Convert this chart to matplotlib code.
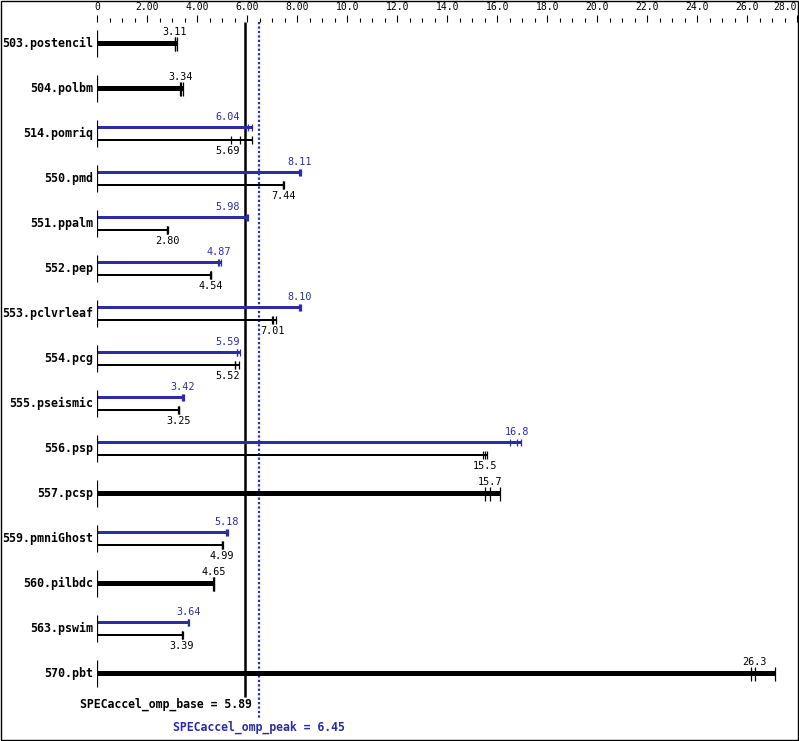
import numpy as np
import matplotlib
matplotlib.use('Agg')
import matplotlib.pyplot as plt
from matplotlib.patches import Rectangle
from matplotlib.ticker import MultipleLocator

# benchmark names and the individual run ratios (median is the printed value)
benchmarks = ['503.postencil', '504.polbm', '514.pomriq', '550.pmd', '551.ppalm',
              '552.pep', '553.pclvrleaf', '554.pcg', '555.pseismic', '556.psp',
              '557.pcsp', '559.pmniGhost', '560.pilbdc', '563.pswim', '570.pbt']
base_runs = [[3.09, 3.11, 3.18], [3.32, 3.34, 3.42], [5.36, 5.69, 6.19],
             [7.42, 7.44, 7.46], [2.79, 2.80, 2.81], [4.52, 4.54, 4.56],
             [7.00, 7.01, 7.13], [5.52, 5.52, 5.68], [3.23, 3.25, 3.27],
             [15.43, 15.5, 15.6], [15.5, 15.7, 16.1], [4.97, 4.99, 5.01],
             [4.63, 4.65, 4.68], [3.37, 3.39, 3.41], [26.15, 26.3, 27.1]]
peak_runs = [None, None, [5.96, 6.04, 6.20],
             [8.08, 8.11, 8.13], [5.95, 5.98, 6.02], [4.83, 4.87, 4.96],
             [8.08, 8.10, 8.13], [5.57, 5.59, 5.69], [3.40, 3.42, 3.45],
             [16.5, 16.8, 16.95], None, [5.15, 5.18, 5.22],
             None, [3.62, 3.64, 3.68], None]
base_score = 5.89
peak_score = 6.45
tick_values = np.arange(0, 29, 2)
tick_labels = ['0', '2.00', '4.00', '6.00', '8.00', '10.0', '12.0', '14.0',
               '16.0', '18.0', '20.0', '22.0', '24.0', '26.0', '28.0']

BLUE = '#2c2ca8'
MONO = 'DejaVu Sans Mono'

W, H = 799, 741
fig = plt.figure(figsize=(W / 100, H / 100), dpi=100)
fig.patch.set_facecolor('white')

x0_px, x1_px, top_px = 97.3, 797.3, 22
ax = fig.add_axes([x0_px / W, 0, (x1_px - x0_px) / W, (H - top_px) / H])
ax.set_xlim(0, 28)
# one row per 45 px, row 0 centred at 43.7 px from the top
ax.set_ylim((H - 43.7) / 45, (top_px - 43.7) / 45)
for s in ax.spines.values():
    s.set_visible(False)
ax.yaxis.set_visible(False)
ax.xaxis.set_ticks_position('top')
ax.set_xticks(tick_values)
ax.set_xticklabels(tick_labels, family=MONO, fontsize=7.0)
ax.xaxis.set_minor_locator(MultipleLocator(0.5))
ax.tick_params(axis='x', which='major', length=5, width=0.8, pad=2.5, direction='out')
ax.tick_params(axis='x', which='minor', length=2.9, width=0.8, direction='out')
ax.get_xticklabels()[-1].set_ha('right')


def fmt(v):
    return f'{v:.2f}' if v < 10 else f'{v:.1f}'


def label_x(m):
    # keep value labels off the base reference line
    if abs(m - base_score) < 0.55:
        return base_score - 0.18, 'right'
    return m, 'center'


# reference lines
ax.vlines(base_score, (top_px - 43.7) / 45, 14.52, color='black', lw=1.8, zorder=1)
ax.vlines(peak_score, (top_px - 43.7) / 45, 14.98, color=BLUE, lw=1.6,
          linestyles=(0, (1, 1)), zorder=1)

VAL_FS = 7.3
for i, name in enumerate(benchmarks):
    ax.vlines(0, i - 0.3, i + 0.3, color='black', lw=0.9, zorder=3)
    ax.annotate(name, (0, i), xytext=(-3, 0), textcoords='offset points',
                ha='right', va='center', family=MONO, fontweight='bold',
                fontsize=8.4, annotation_clip=False)
    b = base_runs[i]
    p = peak_runs[i]
    if p is None:
        ax.barh(i, max(b), height=0.1, left=0, color='black', zorder=2)
        ax.vlines(b, i - 0.155, i + 0.155, color='black', lw=0.9, zorder=3)
        m = np.median(b)
        lx, ha = label_x(m)
        ax.text(lx, i - 0.26, fmt(m), ha=ha, va='center', family=MONO,
                fontsize=VAL_FS, color='black')
    else:
        yp, yb = i - 0.14, i + 0.14
        ax.barh(yp, max(p), height=0.058, left=0, color=BLUE, zorder=2)
        ax.vlines(p, yp - 0.08, yp + 0.08, color=BLUE, lw=0.9, zorder=3)
        ax.barh(yb, max(b), height=0.058, left=0, color='black', zorder=2)
        ax.vlines(b, yb - 0.08, yb + 0.08, color='black', lw=0.9, zorder=3)
        mp = np.median(p)
        lx, ha = label_x(mp)
        ax.text(lx, yp - 0.24, fmt(mp), ha=ha, va='center', family=MONO,
                fontsize=VAL_FS, color=BLUE)
        mb = np.median(b)
        lx, ha = label_x(mb)
        ax.text(lx, yb + 0.245, fmt(mb), ha=ha, va='center', family=MONO,
                fontsize=VAL_FS, color='black')

ax.text(6.19, (704.3 - 43.7) / 45, f'SPECaccel_omp_base = {base_score:.2f}',
        ha='right', va='center', family=MONO, fontweight='bold', fontsize=8.3,
        color='black')
ax.text(peak_score, (727.3 - 43.7) / 45, f'SPECaccel_omp_peak = {peak_score:.2f}',
        ha='center', va='center', family=MONO, fontweight='bold', fontsize=8.3,
        color=BLUE)

fig.add_artist(Rectangle((0.5 / W, 1.5 / H), 797 / W, 738.5 / H,
                         transform=fig.transFigure, fill=False, ec='black', lw=1))

fig.savefig('out.png', dpi=100)
